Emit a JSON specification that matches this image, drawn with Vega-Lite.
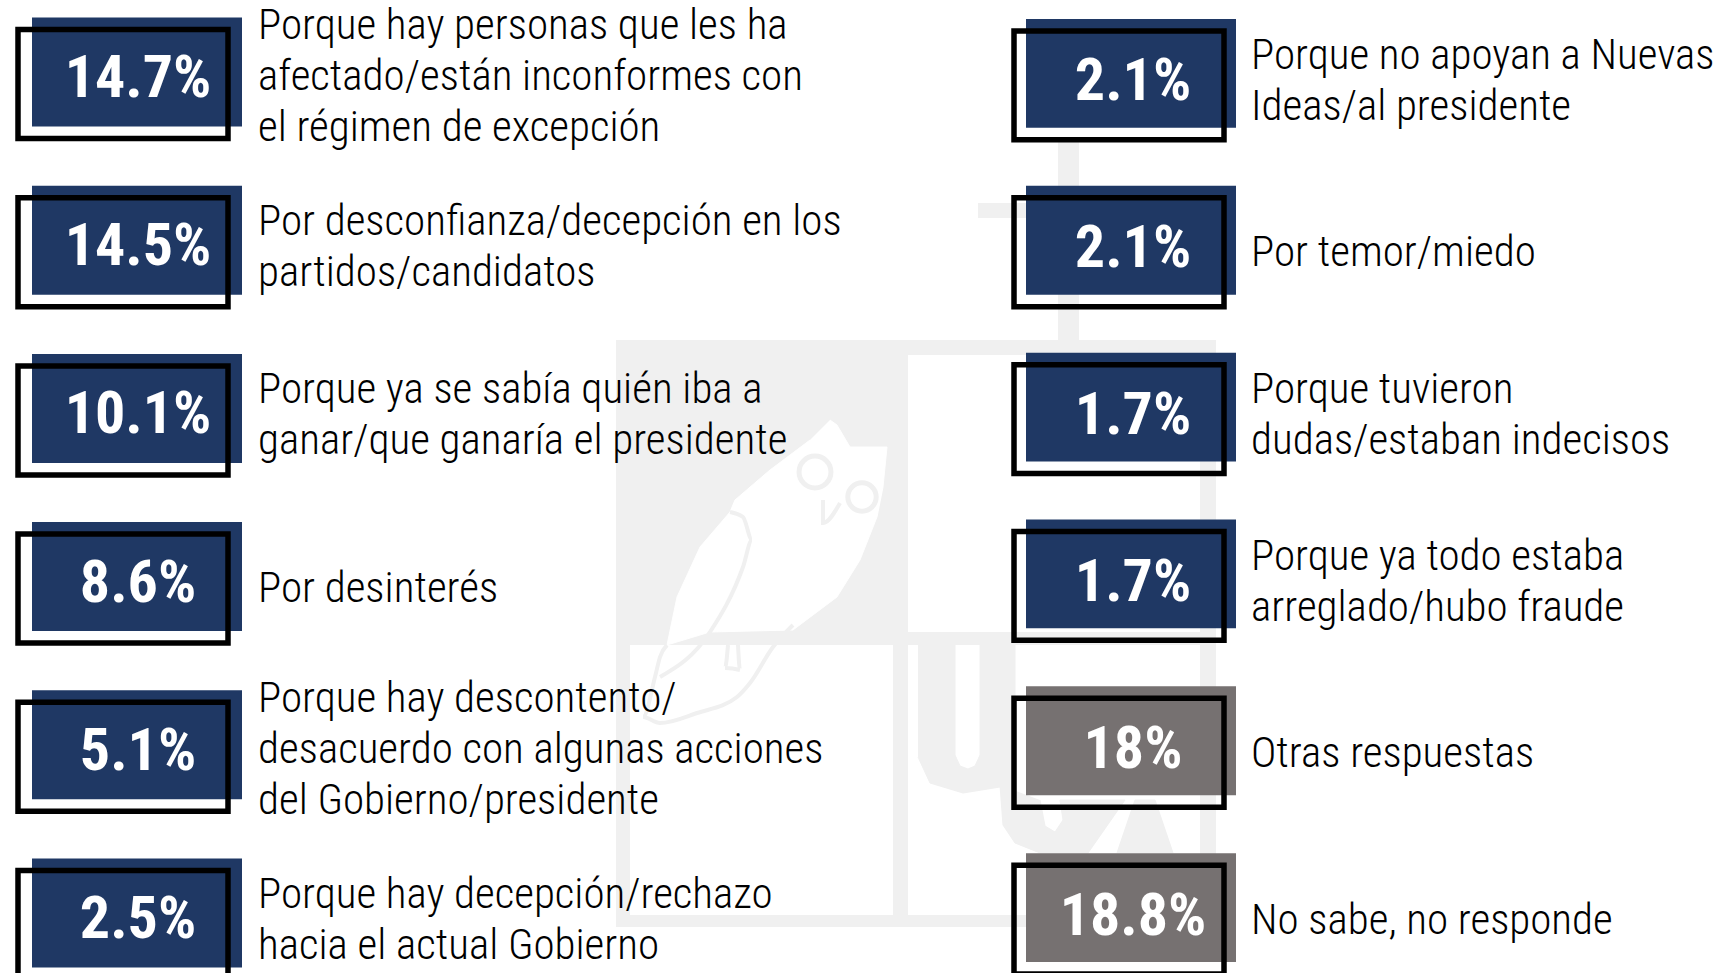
{"$schema":"https://vega.github.io/schema/vega-lite/v6.json","width":1717,"height":973,"autosize":{"type":"none"},"padding":0,"background":"white","config":{"view":{"stroke":null}},
"datasets":{"rows":[
{"col":"L","row":1,"pct":"14.7%","kind":"a","lines":3,"label":"Porque hay personas que les ha\nafectado/están inconformes con\nel régimen de excepción"},
{"col":"L","row":2,"pct":"14.5%","kind":"a","lines":2,"label":"Por desconfianza/decepción en los\npartidos/candidatos"},
{"col":"L","row":3,"pct":"10.1%","kind":"a","lines":2,"label":"Porque ya se sabía quién iba a\nganar/que ganaría el presidente"},
{"col":"L","row":4,"pct":"8.6%","kind":"a","lines":1,"label":"Por desinterés"},
{"col":"L","row":5,"pct":"5.1%","kind":"a","lines":3,"label":"Porque hay descontento/\ndesacuerdo con algunas acciones\ndel Gobierno/presidente"},
{"col":"L","row":6,"pct":"2.5%","kind":"a","lines":2,"label":"Porque hay decepción/rechazo\nhacia el actual Gobierno"},
{"col":"R","row":1,"pct":"2.1%","kind":"a","lines":2,"label":"Porque no apoyan a Nuevas\nIdeas/al presidente"},
{"col":"R","row":2,"pct":"2.1%","kind":"a","lines":1,"label":"Por temor/miedo"},
{"col":"R","row":3,"pct":"1.7%","kind":"a","lines":2,"label":"Porque tuvieron\ndudas/estaban indecisos"},
{"col":"R","row":4,"pct":"1.7%","kind":"a","lines":2,"label":"Porque ya todo estaba\narreglado/hubo fraude"},
{"col":"R","row":5,"pct":"18%","kind":"b","lines":1,"label":"Otras respuestas"},
{"col":"R","row":6,"pct":"18.8%","kind":"b","lines":1,"label":"No sabe, no responde"}
],
"owl":[{"i":1,"x":830,"y":420},{"i":2,"x":837,"y":425},{"i":3,"x":850,"y":447},{"i":4,"x":887,"y":447},{"i":5,"x":883,"y":487},{"i":6,"x":877,"y":517},{"i":7,"x":860,"y":560},{"i":8,"x":837,"y":597},{"i":9,"x":793,"y":630},{"i":10,"x":710,"y":632},{"i":11,"x":667,"y":645},{"i":12,"x":677,"y":597},{"i":13,"x":700,"y":547},{"i":14,"x":730,"y":512},{"i":15,"x":735,"y":500},{"i":16,"x":770,"y":470},{"i":17,"x":810,"y":440}],
"letters":[
{"s":"U","i":1,"x":918,"y":645},{"s":"U","i":2,"x":955,"y":645},{"s":"U","i":3,"x":955,"y":755},{"s":"U","i":4,"x":960,"y":766},{"s":"U","i":5,"x":968,"y":769},{"s":"U","i":6,"x":975,"y":766},{"s":"U","i":7,"x":980,"y":755},{"s":"U","i":8,"x":980,"y":645},{"s":"U","i":9,"x":1015,"y":645},{"s":"U","i":10,"x":1015,"y":790},{"s":"U","i":11,"x":1000,"y":787},{"s":"U","i":12,"x":963,"y":793},{"s":"U","i":13,"x":930,"y":783},{"s":"U","i":14,"x":918,"y":757},
{"s":"C","i":1,"x":1000,"y":785},{"s":"C","i":2,"x":1003,"y":825},{"s":"C","i":3,"x":1015,"y":843},{"s":"C","i":4,"x":1040,"y":853},{"s":"C","i":5,"x":1088,"y":853},{"s":"C","i":6,"x":1125,"y":800},{"s":"C","i":7,"x":1060,"y":800},{"s":"C","i":8,"x":1063,"y":820},{"s":"C","i":9,"x":1055,"y":832},{"s":"C","i":10,"x":1045,"y":826},{"s":"C","i":11,"x":1040,"y":800},
{"s":"A","i":1,"x":1117,"y":853},{"s":"A","i":2,"x":1135,"y":800},{"s":"A","i":3,"x":1155,"y":800},{"s":"A","i":4,"x":1173,"y":853}
],
"owlLines":[
{"s":"wing","i":1,"x":730,"y":512},{"s":"wing","i":2,"x":743,"y":517},{"s":"wing","i":3,"x":752,"y":540},{"s":"wing","i":4,"x":743,"y":567},{"s":"wing","i":5,"x":710,"y":632},{"s":"wing","i":6,"x":660,"y":677},
{"s":"tail","i":1,"x":667,"y":645},{"s":"tail","i":2,"x":660,"y":657},{"s":"tail","i":3,"x":655,"y":677},{"s":"tail","i":4,"x":643,"y":717},{"s":"tail","i":5,"x":660,"y":723},{"s":"tail","i":6,"x":697,"y":713},{"s":"tail","i":7,"x":737,"y":697},{"s":"tail","i":8,"x":750,"y":683},{"s":"tail","i":9,"x":773,"y":647},{"s":"tail","i":10,"x":793,"y":625},
{"s":"beak","i":1,"x":823,"y":500},{"s":"beak","i":2,"x":823,"y":523},{"s":"beak","i":3,"x":840,"y":503},
{"s":"foot","i":1,"x":728,"y":645},{"s":"foot","i":2,"x":725,"y":668},{"s":"foot","i":3,"x":740,"y":670},{"s":"foot","i":4,"x":738,"y":645}
],
"glasses":[{"x":815,"y":472,"ring":1018},{"x":862,"y":497,"ring":804}]
},
"layer":[
{
"encoding":{
"x":{"field":"x","type":"quantitative","scale":{"domain":[0,1717],"range":[0,1717]},"axis":null},
"y":{"field":"y","type":"quantitative","scale":{"domain":[0,973],"range":[0,973]},"axis":null}
},
"layer":[
{"data":{"values":[
{"part":"g","x":616,"x2":1216,"y":340,"y2":927},
{"part":"g","x":1058,"x2":1079,"y":140,"y2":340},
{"part":"g","x":978,"x2":1160,"y":203,"y2":218},
{"part":"w","x":908,"x2":1200,"y":355,"y2":632},
{"part":"w","x":630,"x2":893,"y":645,"y2":915},
{"part":"w","x":908,"x2":1200,"y":645,"y2":915}
]},
"mark":{"type":"rect"},
"encoding":{
"x2":{"field":"x2"},
"y2":{"field":"y2"},
"color":{"field":"part","type":"nominal","scale":{"domain":["g","w"],"range":["#f0f0f0","#ffffff"]},"legend":null}
}},
{"data":{"name":"owl"},"mark":{"type":"line","fill":"#ffffff","stroke":"#ffffff","strokeWidth":1},"encoding":{"order":{"field":"i","type":"quantitative"}}},
{"data":{"name":"letters"},"mark":{"type":"line","fill":"#f0f0f0","stroke":"#f0f0f0","strokeWidth":1},"encoding":{"order":{"field":"i","type":"quantitative"},"detail":{"field":"s"}}},
{"data":{"name":"owlLines"},"mark":{"type":"line","stroke":"#f0f0f0","strokeWidth":4,"interpolate":"monotone"},"encoding":{"order":{"field":"i","type":"quantitative"},"detail":{"field":"s"}}},
{"data":{"name":"glasses"},"mark":{"type":"point","shape":"circle","filled":false,"stroke":"#f0f0f0","strokeWidth":5,"opacity":1},"encoding":{"size":{"field":"ring","type":"quantitative","scale":null}}}
]},
{"data":{"name":"rows"},"transform":[{"filter":"datum.col==='L'"}],
"encoding":{
"x":{"field":"col","type":"nominal","scale":{"type":"band","domain":["L"],"range":[32,242],"paddingInner":0,"paddingOuter":0},"axis":null},
"y":{"field":"row","type":"ordinal","scale":{"type":"band","domain":[1,2,3,4,5,6],"range":[17.5,967.5],"paddingInner":0.352,"paddingOuter":0},"axis":null}
},
"layer":[
{"mark":{"type":"bar","color":"#1f3864"}},
{"mark":{"type":"bar","fill":null,"fillOpacity":0,"stroke":"#000000","strokeWidth":5.5,"xOffset":-14,"yOffset":12}},
{"mark":{"type":"text","font":"Roboto Condensed","fontWeight":"bold","fontSize":60,"color":"#ffffff","align":"center","baseline":"middle","dx":1,"dy":7},"encoding":{"text":{"field":"pct"}}},
{"transform":[{"filter":"datum.lines===1"}],"mark":{"type":"text","font":"Roboto Condensed","fontWeight":300,"fontSize":43,"color":"#000000","align":"left","baseline":"middle","lineHeight":51,"lineBreak":"\n","xOffset":121,"yOffset":12},"encoding":{"text":{"field":"label"}}},
{"transform":[{"filter":"datum.lines===2"}],"mark":{"type":"text","font":"Roboto Condensed","fontWeight":300,"fontSize":43,"color":"#000000","align":"left","baseline":"middle","lineHeight":51,"lineBreak":"\n","xOffset":121,"yOffset":-18},"encoding":{"text":{"field":"label"}}},
{"transform":[{"filter":"datum.lines===3"}],"mark":{"type":"text","font":"Roboto Condensed","fontWeight":300,"fontSize":43,"color":"#000000","align":"left","baseline":"middle","lineHeight":51,"lineBreak":"\n","xOffset":121,"yOffset":-46},"encoding":{"text":{"field":"label"}}}
]},
{"data":{"name":"rows"},"transform":[{"filter":"datum.col==='R'"}],
"encoding":{
"x":{"field":"col","type":"nominal","scale":{"type":"band","domain":["R"],"range":[1026,1236],"paddingInner":0,"paddingOuter":0},"axis":null},
"y":{"field":"row","type":"ordinal","scale":{"type":"band","domain":[1,2,3,4,5,6],"range":[19,962],"paddingInner":0.348,"paddingOuter":0},"axis":null},
"color":{"field":"kind","type":"nominal","scale":{"domain":["a","b"],"range":["#1f3864","#767171"]},"legend":null}
},
"layer":[
{"mark":{"type":"bar"}},
{"mark":{"type":"bar","fill":null,"fillOpacity":0,"stroke":"#000000","strokeWidth":5.5,"xOffset":-12,"yOffset":12},"encoding":{"color":{"value":"#000000"}}},
{"mark":{"type":"text","font":"Roboto Condensed","fontWeight":"bold","fontSize":60,"align":"center","baseline":"middle","dy":9,"dx":2},"encoding":{"text":{"field":"pct"},"color":{"value":"#ffffff"}}},
{"transform":[{"filter":"datum.lines===1"}],"mark":{"type":"text","font":"Roboto Condensed","fontWeight":300,"fontSize":43,"align":"left","baseline":"middle","lineHeight":51,"lineBreak":"\n","xOffset":120,"yOffset":13},"encoding":{"text":{"field":"label"},"color":{"value":"#000000"}}},
{"transform":[{"filter":"datum.lines===2"}],"mark":{"type":"text","font":"Roboto Condensed","fontWeight":300,"fontSize":43,"align":"left","baseline":"middle","lineHeight":51,"lineBreak":"\n","xOffset":120,"yOffset":-17},"encoding":{"text":{"field":"label"},"color":{"value":"#000000"}}}
]}
],
"resolve":{"scale":{"x":"independent","y":"independent","color":"independent"}}
}
